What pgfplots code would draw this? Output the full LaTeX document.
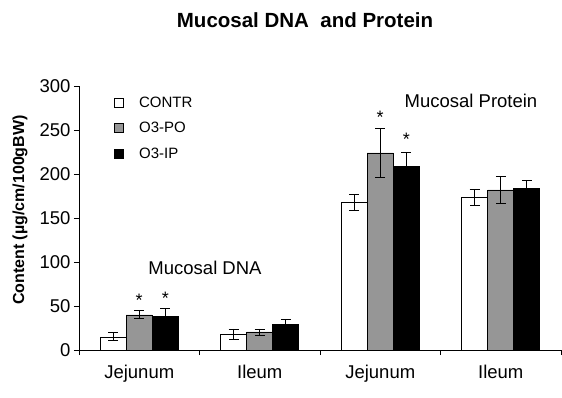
\documentclass[border=0pt]{standalone}
\usepackage{fontspec}
\setmainfont{Liberation Sans}
\usepackage{pgfplots}
\pgfplotsset{compat=1.18}
\definecolor{barGray}{RGB}{150,150,150}
\begin{document}
\begin{tikzpicture}[x=1pt,y=1pt]
\path[use as bounding box] (-79,-47) rectangle (483,350);
\begin{axis}[
  at={(0,0)}, anchor=south west,
  scale only axis, width=482pt, height=264pt,
  xmin=-0.5, xmax=3.5, ymin=0, ymax=300,
  clip=false,
  axis x line=bottom, axis y line=left,
  axis line style={-, line width=0.8pt},
  ytick={0,50,...,300},
  xtick={-0.5,0.5,1.5,2.5,3.5},
  x tick label as interval=true,
  xticklabels={Jejunum,Ileum,Jejunum,Ileum},
  tick align=outside, major tick length=5pt,
  tick style={line width=0.8pt, black},
  /pgf/number format/assume math mode=true,
  ticklabel style={font=\fontsize{18.5}{18.5}\selectfont},
  xticklabel style={yshift=-7pt},
  ylabel={Content (µg/cm/100gBW)},
  ylabel style={at={(axis description cs:-0.1224,0.53)}, anchor=center, font=\bfseries\fontsize{16}{16}\selectfont},
  ybar=0pt, bar width=26pt,
  legend image code/.code={\draw[#1, draw=black, line width=0.6pt] (0pt,-4.5pt) rectangle (9pt,4.5pt);},
  legend style={draw=none, fill=none, at={(rel axis cs:0.065,0.975)}, anchor=north west,
    font=\fontsize{15}{15}\selectfont, row sep=9.5pt, legend cell align=left,
    /tikz/every odd column/.append style={column sep=14pt}},
  legend cell align=left,
]
\addplot+[fill=white, draw=black, line width=0.6pt,
  error bars/.cd, y dir=both, y explicit,
  error bar style={line width=0.8pt, black},
  error mark options={rotate=90, mark size=5pt, line width=0.8pt, black}]
  coordinates {(0,15) +- (0,4.5) (1,18.2) +- (0,5.7) (2,168) +- (0,9) (3,173) +- (0,9)};
\addplot+[fill=barGray, draw=black, line width=0.6pt,
  error bars/.cd, y dir=both, y explicit,
  error bar style={line width=0.8pt, black},
  error mark options={rotate=90, mark size=5pt, line width=0.8pt, black}]
  coordinates {(0,40) +- (0,4.5) (1,20.5) +- (0,3.4) (2,224) +- (0,27.5) (3,182) +- (0,15)};
\addplot+[fill=black, draw=black, line width=0.6pt,
  error bars/.cd, y dir=both, y explicit,
  error bar style={line width=0.8pt, black},
  error mark options={rotate=90, mark size=5pt, line width=0.8pt, black}]
  coordinates {(0,38.6) +- (0,9) (1,29.5) +- (0,5.7) (2,209) +- (0,16) (3,184) +- (0,9)};
\legend{CONTR,O3-PO,O3-IP}
\node[anchor=north, inner sep=0pt, font=\fontsize{18}{18}\selectfont] at (axis cs:0,63.6) {*};
\node[anchor=north, inner sep=0pt, font=\fontsize{18}{18}\selectfont] at (axis cs:0.216,66) {*};
\node[anchor=north, inner sep=0pt, font=\fontsize{18}{18}\selectfont] at (axis cs:2,272) {*};
\node[anchor=north, inner sep=0pt, font=\fontsize{18}{18}\selectfont] at (axis cs:2.216,247) {*};
\node[font=\fontsize{18.5}{18.5}\selectfont] at (axis cs:0.546,93) {Mucosal DNA};
\node[font=\fontsize{18.5}{18.5}\selectfont] at (axis cs:2.753,283) {Mucosal Protein};
\node[font=\bfseries\fontsize{20.5}{20.5}\selectfont] at (rel axis cs:0.469,1.25) {Mucosal DNA\ \ and Protein};
\end{axis}
\end{tikzpicture}
\end{document}
